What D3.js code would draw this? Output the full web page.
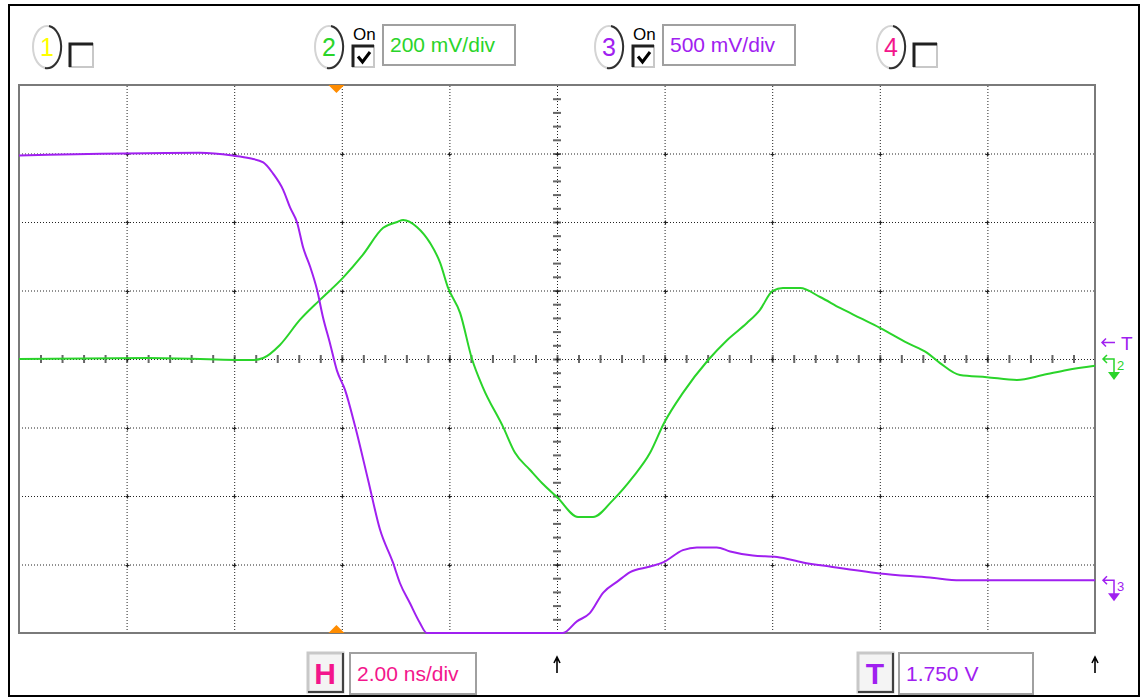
<!DOCTYPE html>
<html>
<head>
<meta charset="utf-8">
<script src="https://cdn.jsdelivr.net/npm/d3@7/dist/d3.min.js"></script>
<style>
body { margin: 0; background: #fff; }
svg { display: block; font-family: "Liberation Sans", Arial, sans-serif; }
.grid line { stroke: #222; stroke-dasharray: 1,2; }
.minor line { stroke: #666; stroke-width: 2; }
</style>
</head>
<body>
<svg id="scope" width="1141" height="698"></svg>
<script>
// channel 2 trace: time (ns) / voltage (mV), 200 mV/div, ground at centre
var ch2Time = [-10.0, -7.6, -5.67, -5.46, -5.15, -4.78, -4.41, -3.98, -3.61, -3.23, -2.97, -2.86, -2.60, -2.36, -2.17, -2.03, -1.80, -1.58, -1.38, -1.00, -0.78, -0.50, -0.28, 0.00, 0.39, 0.67, 1.04, 1.41, 1.73, 1.99, 2.34, 2.81, 3.16, 3.53, 3.77, 4.01, 4.20, 4.52, 4.89, 5.26, 5.63, 6.00, 6.51, 6.88, 7.12, 7.49, 7.99, 8.55, 9.03, 9.48, 10.0];
var ch2mV = [0, 3, -3, 3, 41, 114, 172, 237, 304, 383, 400, 406, 385, 339, 280, 210, 134, 0, -82, -199, -274, -324, -362, -403, -461, -461, -412, -345, -274, -187, -99, -3, 55, 105, 143, 199, 207, 207, 181, 149, 120, 91, 47, 18, -12, -47, -53, -61, -47, -32, -20];

// channel 3 trace: time (ns) / voltage (V), 500 mV/div, ground 3.23 div below centre
var ch3Time = [-10.0, -6.64, -6.03, -5.71, -5.46, -5.28, -5.09, -4.96, -4.83, -4.72, -4.59, -4.46, -4.35, -4.22, -4.09, -3.94, -3.75, -3.51, -3.29, -3.05, -2.92, -2.73, -2.55, -2.42, 0.11, 0.37, 0.61, 0.86, 1.12, 1.36, 1.73, 1.97, 2.34, 2.60, 2.97, 3.22, 3.64, 4.09, 4.57, 5.07, 6.00, 6.93, 7.49, 10.0];
var ch3V = [3.10, 3.12, 3.10, 3.08, 3.05, 2.97, 2.85, 2.72, 2.61, 2.43, 2.29, 2.12, 1.92, 1.73, 1.53, 1.39, 1.12, 0.73, 0.37, 0.13, -0.02, -0.17, -0.31, -0.39, -0.39, -0.30, -0.24, -0.09, -0.01, 0.06, 0.10, 0.13, 0.22, 0.24, 0.24, 0.21, 0.18, 0.17, 0.13, 0.10, 0.05, 0.02, 0.00, 0.00];

var channelNames = ["1", "2", "3", "4"];
var channelOn = [false, true, true, false];
var channelScaleText = ["", "200 mV/div", "500 mV/div", ""];
var channelColors = ["#ffff00", "#2ad42a", "#a020f0", "#f3168c"];
var ch2PerDiv = 200;   // mV
var ch3PerDiv = 0.5;   // V
var ch3OffsetDiv = -3.23;
var timebaseText = "2.00 ns/div";
var triggerText = "1.750 V";
var triggerLevel = 1.75;   // V on channel 3
var triggerTime = -4.1;    // ns

var svg = d3.select("#scope");
var plotLeft = 19, plotTop = 85, plotW = 1076, plotH = 548;

var x = d3.scaleLinear().domain([-10, 10]).range([plotLeft, plotLeft + plotW]);
var y = d3.scaleLinear().domain([-4, 4]).range([plotTop + plotH, plotTop]).clamp(true);

drawFrame();
drawGrid();
drawTraces();
drawMarkers();
drawChannelBar();
drawBottomBar();

function drawFrame() {
	svg.append("rect")
		.attr("x", 9).attr("y", 5)
		.attr("width", 1130).attr("height", 691)
		.attr("fill", "#fff").attr("stroke", "#000").attr("stroke-width", 2);
}

function drawGrid() {
	var g = svg.append("g");
	var majorX = d3.range(-8, 9, 2);
	var majorY = d3.range(-3, 4, 1);

	g.append("g").attr("class", "grid")
		.attr("transform", "translate(0," + (plotTop + plotH) + ")")
		.call(d3.axisBottom(x).tickValues(majorX).tickSize(-plotH).tickFormat(""))
		.call(function(a) { a.select(".domain").remove(); });

	g.append("g").attr("class", "grid")
		.attr("transform", "translate(" + plotLeft + ",0)")
		.call(d3.axisLeft(y).tickValues(majorY).tickSize(-plotW).tickFormat(""))
		.call(function(a) { a.select(".domain").remove(); });

	// minor ticks on the centre cross
	var minorX = d3.range(-9.6, 9.7, 0.4);
	var minorY = d3.range(-3.8, 3.9, 0.2);
	g.append("g").attr("class", "minor")
		.attr("transform", "translate(0," + (y(0) + 4) + ")")
		.call(d3.axisTop(x).tickValues(minorX).tickSize(8).tickFormat(""))
		.call(function(a) { a.select(".domain").remove(); });
	g.append("g").attr("class", "minor")
		.attr("transform", "translate(" + (x(0) + 4) + ",0)")
		.call(d3.axisLeft(y).tickValues(minorY).tickSize(8).tickFormat(""))
		.call(function(a) { a.select(".domain").remove(); });

	// darker dots at grid crossings
	g.selectAll("path.cross")
		.data(d3.cross(majorX, majorY))
		.enter().append("path")
		.attr("d", function(d) {
			var cx = Math.round(x(d[0])) + 0.5, cy = Math.round(y(d[1])) + 0.5;
			return "M" + (cx - 2) + "," + cy + "H" + (cx + 2) + "M" + cx + "," + (cy - 2) + "V" + (cy + 2);
		})
		.attr("stroke", "#222").attr("stroke-width", 1.2);

	g.append("rect")
		.attr("x", plotLeft).attr("y", plotTop)
		.attr("width", plotW).attr("height", plotH)
		.attr("fill", "none").attr("stroke", "#7a7a7a").attr("stroke-width", 2);
}

function drawTraces() {
	var line = d3.line()
		.x(function(d) { return x(d[0]); })
		.y(function(d) { return y(d[1]); })
		.curve(d3.curveMonotoneX);

	var ch2 = d3.zip(ch2Time, ch2mV.map(function(v) { return v / ch2PerDiv; }));
	var ch3 = d3.zip(ch3Time, ch3V.map(function(v) { return v / ch3PerDiv + ch3OffsetDiv; }));

	svg.append("path").datum(ch2).attr("d", line)
		.attr("fill", "none").attr("stroke", channelColors[1]).attr("stroke-width", 2);
	svg.append("path").datum(ch3).attr("d", line)
		.attr("fill", "none").attr("stroke", channelColors[2]).attr("stroke-width", 2);
}

function drawMarkers() {
	// trigger position triangles
	var tx = x(triggerTime);
	var bottom = plotTop + plotH;
	svg.append("path")
		.attr("d", "M" + (tx - 8) + "," + plotTop + "L" + (tx + 8) + "," + plotTop + "L" + tx + "," + (plotTop + 8) + "Z")
		.attr("fill", "#ff8c00");
	svg.append("path")
		.attr("d", "M" + (tx - 8) + "," + bottom + "L" + (tx + 8) + "," + bottom + "L" + tx + "," + (bottom - 8) + "Z")
		.attr("fill", "#ff8c00");

	// trigger level on the right
	var ty = y(triggerLevel / ch3PerDiv + ch3OffsetDiv) + 2;
	var rx = plotLeft + plotW + 7;
	svg.append("path")
		.attr("d", "M" + rx + "," + ty + "H" + (rx + 13) + "M" + (rx + 4) + "," + (ty - 4) + "L" + rx + "," + ty + "L" + (rx + 4) + "," + (ty + 4))
		.attr("fill", "none").attr("stroke", channelColors[2]).attr("stroke-width", 1.5);
	svg.append("text").attr("x", rx + 19).attr("y", ty + 7)
		.attr("font-size", 19).attr("fill", channelColors[2]).text("T");

	groundMarker(y(0), channelColors[1], "2");
	groundMarker(y(ch3OffsetDiv), channelColors[2], "3");

	// time reference arrows below the plot
	[0, 10].forEach(function(t) {
		var ax = Math.round(x(t));
		svg.append("path")
			.attr("d", "M" + ax + ",673V659M" + (ax - 3) + ",663L" + ax + ",657L" + (ax + 3) + ",663")
			.attr("fill", "none").attr("stroke", "#000").attr("stroke-width", 1.6);
	});
}

function groundMarker(gy, color, label) {
	var mx = plotLeft + plotW + 8;
	var g = svg.append("g");
	g.append("path")
		.attr("d", "M" + mx + "," + gy + "H" + (mx + 11) + "V" + (gy + 14) + "M" + (mx + 4) + "," + (gy - 4) + "L" + mx + "," + gy + "L" + (mx + 4) + "," + (gy + 4))
		.attr("fill", "none").attr("stroke", color).attr("stroke-width", 1.5);
	g.append("path")
		.attr("d", "M" + (mx + 5) + "," + (gy + 13) + "H" + (mx + 17) + "L" + (mx + 11) + "," + (gy + 21) + "Z")
		.attr("fill", color);
	g.append("text").attr("x", mx + 14).attr("y", gy + 11)
		.attr("font-size", 13).attr("fill", color).text(label);
}

function roundButton(cx, cy, label, color) {
	svg.append("ellipse").attr("cx", cx).attr("cy", cy).attr("rx", 14).attr("ry", 21)
		.attr("fill", "#fff").attr("stroke", "#d4d4d4").attr("stroke-width", 2);
	svg.append("path")
		.attr("d", "M" + (cx + 2) + "," + (cy - 21) + "A14,21 0 0 1 " + (cx - 2) + "," + (cy + 21))
		.attr("fill", "none").attr("stroke", "#303030").attr("stroke-width", 2);
	svg.append("text").attr("x", cx).attr("y", cy + 9)
		.attr("text-anchor", "middle").attr("font-size", 25)
		.attr("fill", color).text(label);
}

function checkBox(bx, by, size, checked) {
	svg.append("rect").attr("x", bx).attr("y", by).attr("width", size).attr("height", size)
		.attr("fill", "#fff").attr("stroke", "#c8c8c8").attr("stroke-width", 2);
	svg.append("path")
		.attr("d", "M" + bx + "," + (by + size) + "V" + by + "H" + (bx + size))
		.attr("fill", "none").attr("stroke", "#202020").attr("stroke-width", 3);
	if (checked) {
		svg.append("path")
			.attr("d", "M" + (bx + 5) + "," + (by + size / 2) + "L" + (bx + size / 2 - 1) + "," + (by + size - 5) + "L" + (bx + size - 4) + "," + (by + 6))
			.attr("fill", "none").attr("stroke", "#000").attr("stroke-width", 3);
	}
}

function valueBox(bx, by, w, h, txt, color) {
	svg.append("rect").attr("x", bx).attr("y", by).attr("width", w).attr("height", h)
		.attr("fill", "#fff").attr("stroke", "#a0a0a0").attr("stroke-width", 2);
	svg.append("text").attr("x", bx + 7).attr("y", by + h / 2 + 7)
		.attr("font-size", 21).attr("fill", color).text(txt);
}

function drawChannelBar() {
	var btnX = [47, 329, 609, 891];
	for (var i = 0; i < channelNames.length; i++) {
		roundButton(btnX[i], 47, channelNames[i], channelColors[i]);
		if (channelOn[i]) {
			svg.append("text").attr("x", btnX[i] + 24).attr("y", 40)
				.attr("font-size", 17).attr("fill", "#000").text("On");
			checkBox(btnX[i] + 24, 46, 21, true);
			valueBox(btnX[i] + 54, 25, 132, 40, channelScaleText[i], channelColors[i]);
		} else {
			checkBox(btnX[i] + 23, 44, 23, false);
		}
	}
}

function squareButton(bx, by, label, color) {
	svg.append("rect").attr("x", bx).attr("y", by).attr("width", 35).attr("height", 39)
		.attr("fill", "#f4f4f4").attr("stroke", "#c8c8c8").attr("stroke-width", 3);
	svg.append("path")
		.attr("d", "M" + (bx + 35) + "," + by + "V" + (by + 39) + "H" + bx)
		.attr("fill", "none").attr("stroke", "#404040").attr("stroke-width", 2);
	svg.append("text").attr("x", bx + 17).attr("y", by + 31)
		.attr("text-anchor", "middle").attr("font-size", 30).attr("font-weight", "bold")
		.attr("fill", color).text(label);
}

function drawBottomBar() {
	squareButton(308, 653, "H", channelColors[3]);
	valueBox(350, 653, 126, 41, timebaseText, channelColors[3]);
	squareButton(858, 653, "T", channelColors[2]);
	valueBox(899, 653, 134, 41, triggerText, channelColors[2]);
}
</script>
</body>
</html>
